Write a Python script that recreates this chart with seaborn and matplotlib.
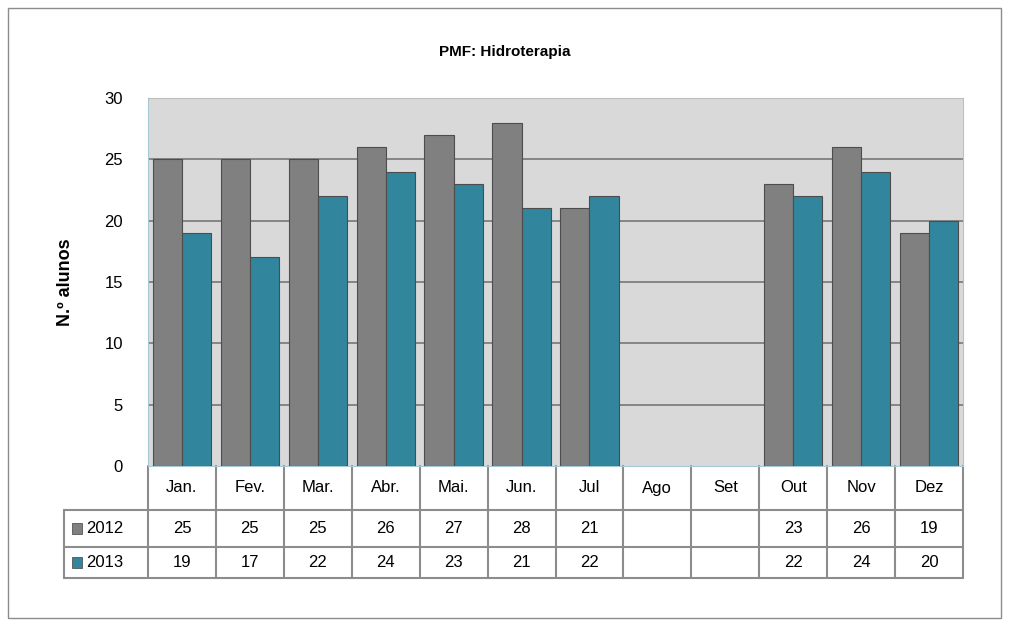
import numpy as np
import pandas as pd
import matplotlib
matplotlib.use("Agg")
import matplotlib.pyplot as plt
import matplotlib.transforms as mtrans
from matplotlib.patches import Rectangle
import seaborn as sns

# data
months = ["Jan.", "Fev.", "Mar.", "Abr.", "Mai.", "Jun.", "Jul", "Ago", "Set", "Out", "Nov", "Dez"]
years = ["2012", "2013"]
alunos_2012 = [25, 25, 25, 26, 27, 28, 21, np.nan, np.nan, 23, 26, 19]
alunos_2013 = [19, 17, 22, 24, 23, 21, 22, np.nan, np.nan, 22, 24, 20]
cores = ["#808080", "#31859c"]

df = pd.DataFrame({
    "mes": months * 2,
    "ano": ["2012"] * 12 + ["2013"] * 12,
    "alunos": alunos_2012 + alunos_2013,
})

sns.set_style("white")
plt.rcParams["font.family"] = ["Liberation Sans", "DejaVu Sans"]
plt.rcParams["text.color"] = "black"
plt.rcParams["ytick.color"] = "black"
plt.rcParams["axes.labelcolor"] = "black"

fig = plt.figure(figsize=(10.09, 6.26), dpi=100)
ax = fig.add_axes([148 / 1009, 1 - 466 / 626, 815 / 1009, 368 / 626])
ax.set_facecolor("#d9d9d9")

sns.barplot(data=df, x="mes", y="alunos", hue="ano", hue_order=years, order=months,
            palette=cores, saturation=1, width=0.86, edgecolor="#4d4d4d", linewidth=0.8,
            legend=False, ax=ax, zorder=3)

ax.set_ylim(0, 30)
ax.set_xlim(-0.5, 11.5)
ax.set_yticks(range(0, 31, 5))
ax.tick_params(axis="y", labelsize=12, pad=18, length=0)
ax.set_xticks([])
ax.set_xlabel("")
ax.set_ylabel("N.º alunos", fontsize=13, fontweight="bold", labelpad=22)
for y in range(5, 30, 5):
    ax.axhline(y, color="#7f7f7f", lw=1.3, zorder=1)
for s in ["top", "right"]:
    ax.spines[s].set_color("#bfbfbf")
ax.spines["left"].set_color("#a6cad6")
ax.spines["bottom"].set_color("#a6cad6")

# data table below the plot
tr = mtrans.blended_transform_factory(ax.transData, ax.transAxes)
y_head = -44 / 368
y_r1 = -81 / 368
y_r2 = -112 / 368
x_left = -0.5 - 84 / (815 / 12)
lc = "#8c8c8c"
kw = dict(color=lc, lw=1.5, transform=tr, clip_on=False)
for i in range(13):
    ax.plot([i - 0.5, i - 0.5], [0, y_r2], **kw)
ax.plot([x_left, 11.5], [y_head, y_head], **kw)
ax.plot([x_left, 11.5], [y_r1, y_r1], **kw)
ax.plot([x_left, 11.5], [y_r2, y_r2], **kw)
ax.plot([x_left, x_left], [y_head, y_r2], **kw)

for i, m in enumerate(months):
    ax.text(i, y_head / 2, m, ha="center", va="center", fontsize=12, transform=tr)
rows = [(alunos_2012, (y_head + y_r1) / 2), (alunos_2013, (y_r1 + y_r2) / 2)]
for (vals, yc), ano, cor in zip(rows, years, cores):
    for i, v in enumerate(vals):
        if not np.isnan(v):
            ax.text(i, yc, str(int(v)), ha="center", va="center", fontsize=12, transform=tr)
    ax.add_patch(Rectangle((x_left + 0.12, yc - 0.014), 0.15, 0.028, transform=tr,
                           facecolor=cor, edgecolor="#555555", lw=0.6, clip_on=False))
    ax.text(x_left + 0.32, yc, ano, ha="left", va="center", fontsize=12, transform=tr)

fig.text(0.5, 1 - 52 / 626, "PMF: Hidroterapia", ha="center", va="center",
         fontsize=11, fontweight="bold")
fig.patches.append(Rectangle((8 / 1009, 8 / 626), 993 / 1009, 610 / 626, transform=fig.transFigure,
                             fill=False, edgecolor="#8c8c8c", lw=1))

fig.savefig("out.png", dpi=100)
